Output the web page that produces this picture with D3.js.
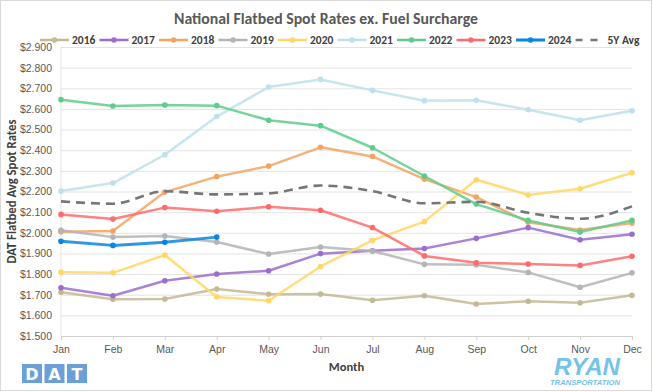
<!DOCTYPE html>
<html>
<head>
<meta charset="utf-8">
<script src="https://cdn.jsdelivr.net/npm/d3@7"></script>
<style>
  html, body { margin: 0; padding: 0; background: #fff; }
  svg { display: block; font-family: Calibri, Carlito, "Open Sans", sans-serif; }
</style>
</head>
<body>
<div id="chart"></div>
<script>
// chart data
var months = ["Jan", "Feb", "Mar", "Apr", "May", "Jun", "Jul", "Aug", "Sep", "Oct", "Nov", "Dec"];
var yTicks = [1.5, 1.6, 1.7, 1.8, 1.9, 2.0, 2.1, 2.2, 2.3, 2.4, 2.5, 2.6, 2.7, 2.8, 2.9];

var y2016 = [1.712, 1.678, 1.679, 1.728, 1.702, 1.703, 1.673, 1.695, 1.655, 1.668, 1.661, 1.697];
var y2017 = [1.734, 1.695, 1.768, 1.800, 1.816, 1.899, 1.913, 1.924, 1.973, 2.025, 1.966, 1.993];
var y2018 = [2.005, 2.009, 2.197, 2.272, 2.323, 2.414, 2.370, 2.260, 2.173, 2.051, 2.013, 2.047];
var y2019 = [2.012, 1.979, 1.984, 1.955, 1.897, 1.931, 1.912, 1.847, 1.845, 1.808, 1.736, 1.806];
var y2020 = [1.809, 1.806, 1.892, 1.689, 1.671, 1.837, 1.963, 2.054, 2.257, 2.183, 2.213, 2.291];
var y2021 = [2.202, 2.241, 2.378, 2.563, 2.706, 2.743, 2.690, 2.640, 2.642, 2.596, 2.545, 2.591];
var y2022 = [2.645, 2.614, 2.619, 2.616, 2.545, 2.519, 2.412, 2.275, 2.139, 2.060, 2.004, 2.060];
var y2023 = [2.089, 2.067, 2.122, 2.104, 2.126, 2.109, 2.025, 1.888, 1.855, 1.849, 1.842, 1.886];
var y2024 = [1.959, 1.939, 1.954, 1.979];
var avg5y = [2.152, 2.141, 2.201, 2.186, 2.191, 2.229, 2.202, 2.143, 2.150, 2.097, 2.068, 2.128];

var series = [
  { name: "2016", values: y2016, color: "#c4b994", width: 2.5 },
  { name: "2017", values: y2017, color: "#9b6dcc", width: 2.5 },
  { name: "2018", values: y2018, color: "#f2a462", width: 2.5 },
  { name: "2019", values: y2019, color: "#b4b4b4", width: 2.5 },
  { name: "2020", values: y2020, color: "#ffd766", width: 2.5 },
  { name: "2021", values: y2021, color: "#bde0ea", width: 2.5 },
  { name: "2022", values: y2022, color: "#5fcb8c", width: 2.5 },
  { name: "2023", values: y2023, color: "#ff6b6b", width: 2.5 },
  { name: "2024", values: y2024, color: "#0a86e2", width: 3 }
];

var W = 653, H = 392;
var margin = { top: 47, right: 21, bottom: 56, left: 61 };

var svg = d3.select("#chart").append("svg")
  .attr("width", W)
  .attr("height", H);

// outer chart frame
svg.append("rect")
  .attr("x", 0.5).attr("y", 0.5)
  .attr("width", W - 2).attr("height", H - 2)
  .attr("fill", "#fff")
  .attr("stroke", "#d9d9d9");

var x = d3.scalePoint()
  .domain(months)
  .range([margin.left, W - margin.right]);

var y = d3.scaleLinear()
  .domain([1.5, 2.9])
  .range([H - margin.bottom, margin.top]);

// gridlines + y labels
var yAxis = d3.axisLeft(y)
  .tickValues(yTicks)
  .tickSize(-(W - margin.right - margin.left))
  .tickPadding(9)
  .tickFormat(function(d) { return "$" + d3.format(".3f")(d); });

var gy = svg.append("g")
  .attr("transform", "translate(" + margin.left + ",0)")
  .call(yAxis);
gy.select(".domain").remove();
gy.selectAll(".tick line").attr("stroke", "#e3e3e3");
gy.selectAll(".tick text")
  .attr("fill", "#595959")
  .style("font-size", "10.5px");

// left vertical line
svg.append("line")
  .attr("x1", margin.left).attr("x2", margin.left)
  .attr("y1", margin.top).attr("y2", H - margin.bottom)
  .attr("stroke", "#e3e3e3");

// bottom axis
var xAxis = d3.axisBottom(x).tickSize(4).tickPadding(6);
var gx = svg.append("g")
  .attr("transform", "translate(0," + (H - margin.bottom) + ")")
  .call(xAxis);
gx.select(".domain").attr("stroke", "#d0d0d0");
gx.selectAll(".tick line").attr("stroke", "#d0d0d0");
gx.selectAll(".tick text")
  .attr("fill", "#595959")
  .style("font-size", "10.5px");

var line = d3.line()
  .x(function(d, i) { return x(months[i]); })
  .y(function(d) { return y(d); });

var plot = svg.append("g");

series.forEach(function(s) {
  plot.append("path")
    .datum(s.values)
    .attr("fill", "none")
    .attr("stroke", s.color)
    .attr("stroke-width", s.width)
    .attr("stroke-opacity", 0.85)
    .attr("stroke-linejoin", "round")
    .attr("d", line);

  plot.selectAll(null)
    .data(s.values)
    .enter()
    .append("circle")
    .attr("cx", function(d, i) { return x(months[i]); })
    .attr("cy", function(d) { return y(d); })
    .attr("r", 2.8)
    .attr("fill", s.color);
});

// 5 year average, smoothed dashed line
var smooth = d3.line()
  .x(function(d, i) { return x(months[i]); })
  .y(function(d) { return y(d); })
  .curve(d3.curveMonotoneX);

plot.append("path")
  .datum(avg5y)
  .attr("fill", "none")
  .attr("stroke", "#767676")
  .attr("stroke-width", 2.6)
  .attr("stroke-dasharray", "9,6")
  .attr("d", smooth);

// title
svg.append("text")
  .attr("x", 326).attr("y", 24)
  .attr("text-anchor", "middle")
  .attr("fill", "#595959")
  .style("font-size", "16px")
  .style("font-weight", "600")
  .attr("textLength", 304)
  .attr("lengthAdjust", "spacingAndGlyphs")
  .text("National Flatbed Spot Rates ex. Fuel Surcharge");

// legend
var legendItems = series.map(function(s) { return { name: s.name, color: s.color, dash: null, marker: true }; });
legendItems.push({ name: "5Y Avg", color: "#767676", dash: "7,8", marker: false });

var legend = svg.append("g");
legendItems.forEach(function(d, i) {
  var lx = 40 + i * 59.5;
  var g = legend.append("g").attr("transform", "translate(" + lx + ",40)");
  var len = d.marker ? 29 : 24;
  g.append("line")
    .attr("x1", 0).attr("x2", len)
    .attr("y1", 0).attr("y2", 0)
    .attr("stroke", d.color)
    .attr("stroke-width", d.name === "2024" ? 3 : 2.5)
    .attr("stroke-dasharray", d.dash);
  if (d.marker) {
    g.append("circle").attr("cx", len / 2).attr("cy", 0).attr("r", 2.8).attr("fill", d.color);
  }
  g.append("text")
    .attr("x", 32)
    .attr("y", 4)
    .attr("fill", "#404040")
    .style("font-size", "11.5px")
    .style("font-weight", "600")
    .text(d.name);
});

// axis titles
svg.append("text")
  .attr("transform", "translate(16," + ((margin.top + H - margin.bottom) / 2) + ") rotate(-90)")
  .attr("text-anchor", "middle")
  .attr("fill", "#404040")
  .style("font-size", "13px")
  .style("font-weight", "bold")
  .attr("textLength", 144)
  .attr("lengthAdjust", "spacingAndGlyphs")
  .text("DAT Flatbed Avg Spot Rates");

svg.append("text")
  .attr("x", (margin.left + W - margin.right) / 2)
  .attr("y", 371)
  .attr("text-anchor", "middle")
  .attr("fill", "#404040")
  .style("font-size", "12.5px")
  .style("font-weight", "bold")
  .text("Month");

// DAT logo
var dat = svg.append("g").attr("transform", "translate(22,364)");
["D", "A", "T"].forEach(function(ch, i) {
  dat.append("rect")
    .attr("x", i * 22.5).attr("y", 0)
    .attr("width", 20).attr("height", 19)
    .attr("fill", "#6a9fd8");
  dat.append("text")
    .attr("x", i * 22.5 + 10).attr("y", 16)
    .attr("text-anchor", "middle")
    .attr("fill", "#fff")
    .style("font-family", "'DejaVu Sans', sans-serif")
    .style("font-size", "16px")
    .style("font-weight", "bold")
    .text(ch);
});

// RYAN logo
var ryan = svg.append("g");
ryan.append("text")
  .attr("x", 554).attr("y", 375)
  .attr("fill", "#75c3e8")
  .style("font-family", "'Liberation Sans', sans-serif")
  .style("font-size", "23px")
  .style("font-weight", "bold")
  .style("font-style", "italic")
  .attr("textLength", 66)
  .attr("lengthAdjust", "spacingAndGlyphs")
  .text("RYAN");
ryan.append("text")
  .attr("x", 550).attr("y", 385)
  .attr("fill", "#75c3e8")
  .style("font-family", "'Liberation Sans', sans-serif")
  .style("font-size", "6.5px")
  .style("font-weight", "bold")
  .style("font-style", "italic")
  .attr("textLength", 70)
  .attr("lengthAdjust", "spacingAndGlyphs")
  .text("TRANSPORTATION");
</script>
</body>
</html>
